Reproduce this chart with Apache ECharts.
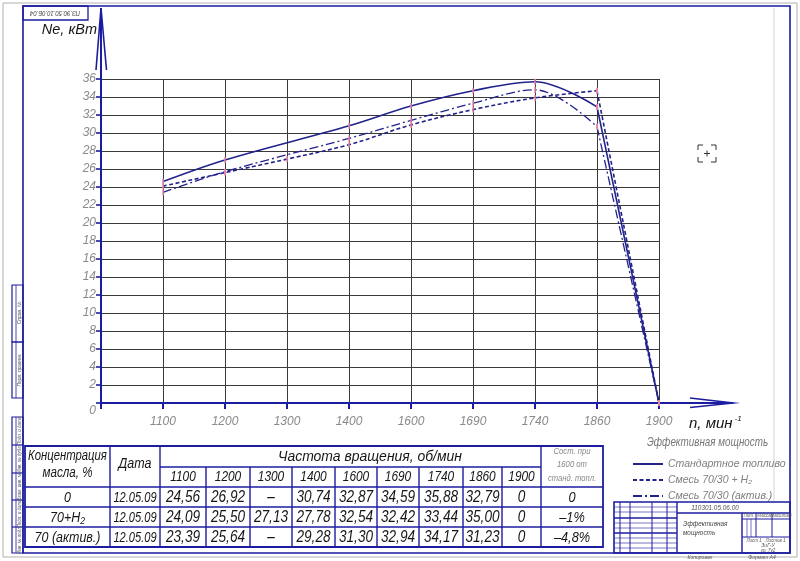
<!DOCTYPE html>
<html><head><meta charset="utf-8">
<script src="https://cdn.jsdelivr.net/npm/echarts@6/dist/echarts.min.js"></script>
<style>html,body{margin:0;padding:0;background:#fff}#c{width:800px;height:561px}</style>
</head><body><div id="c"></div><script>
// ---- data ----
const rpmLabels = ['1100','1200','1300','1400','1600','1690','1740','1860','1900'];
const seriesNames = ['Стандартное топливо','Смесь 70/30 + H₂','Смесь 70/30 (актив.)'];
const neStandard = [24.6, 27.0, null, 30.8, 33.0, 34.7, 35.7, 32.9, 0];
const neMixH2    = [24.1, 25.6, 27.1, 28.7, 30.9, 32.6, 33.9, 34.7, 0];
const neMixActiv = [23.4, 25.7, null, 29.4, 31.4, 33.3, 34.8, 30.7, 0];
const yMin = 0, yMax = 36, yStep = 2;

const tableRowLabels = ['0', '70+H₂', '70 (актив.)'];
const tableDates = ['12.05.09', '12.05.09', '12.05.09'];
const tableStandard = ['24,56','26,92','–','30,74','32,87','34,59','35,88','32,79','0'];
const tableMixH2    = ['24,09','25,50','27,13','27,78','32,54','32,42','33,44','35,00','0'];
const tableMixActiv = ['23,39','25,64','–','29,28','31,30','32,94','34,17','31,23','0'];
const tableDelta = ['0', '–1%', '–4,8%'];

// ---- style ----
const FF = '"Liberation Sans","DejaVu Sans",sans-serif';
const BLUE = '#1c1ca0';
const LINE = '#22228c';
const GRID = '#3a3a3a';
const LABEL = '#8a8a8a';
const INK = '#161616';

const chart = echarts.init(document.getElementById('c'), null, {renderer: 'canvas'});

// points of a series as [categoryIndex, value]
function pts(vals) {
  return vals.map((v, i) => v == null ? null : [i + 1, v]).filter(d => d);
}
function mkSeries(name, data, type, width, smooth) {
  return {
    type: 'line', name: name, data: data,
    smooth: smooth,
    symbol: 'rect', symbolSize: [1.5, 6], showSymbol: true,
    itemStyle: {color: '#e88aa8'},
    lineStyle: {color: LINE, width: width, type: type},
    emphasis: {disabled: true}, silent: true
  };
}
// smooth rising part up to 1860, straight fall from 1860 to 1900
function mkPair(name, vals, type, width) {
  const p = pts(vals);
  return [mkSeries(name, p.slice(0, p.length - 1), type, width, 0.35),
          mkSeries(name, p.slice(p.length - 2), type, width, false)];
}

function txt(x, y, text, size, opt) {
  opt = opt || {};
  return {type: 'text', x: x, y: y, rotation: opt.rot || 0, scaleX: opt.sx || 1, silent: true,
    style: {text: text, fontSize: size, fontFamily: FF, fontStyle: opt.normal ? 'normal' : 'italic',
      fill: opt.fill || INK, align: opt.align || 'center', verticalAlign: opt.va || 'middle'}};
}
function ln(x1, y1, x2, y2, w, c) {
  return {type: 'line', silent: true, shape: {x1: x1, y1: y1, x2: x2, y2: y2},
    style: {stroke: c || BLUE, lineWidth: w || 1}};
}
function pl(points, w, c) {
  return {type: 'polyline', silent: true, shape: {points: points}, style: {stroke: c || BLUE, lineWidth: w || 1, fill: null}};
}
function rc(x, y, w, h, lw, c) {
  return {type: 'rect', silent: true, shape: {x: x, y: y, width: w, height: h},
    style: {stroke: c || BLUE, lineWidth: lw || 1, fill: null}};
}

const g = [];
// sheet borders
g.push(rc(3, 3, 794, 554, 1, '#b0b0b0'));
g.push(rc(23, 6, 767, 547, 1.6));
g.push(ln(774, 8, 774, 501, 1, '#d4d4d4'));
// top-left code box (upside down)
g.push(rc(23, 6, 65, 14, 1.3));
g.push(txt(55, 13, 'ПЗ.90.50.10.0Б.04', 7, {rot: Math.PI, fill: '#444', sx: 0.85}));
// left stamp columns
g.push(rc(12, 285, 11, 57, 1.2)); g.push(rc(12, 342, 11, 56, 1.2));
g.push(ln(16, 285, 16, 398, 0.8));
g.push(txt(19.5, 313, 'Справ. №', 5, {rot: Math.PI / 2, fill: '#555'}));
g.push(txt(19.5, 370, 'Перв. примен.', 5, {rot: Math.PI / 2, fill: '#555'}));
g.push(rc(12, 417, 11, 136, 1.2));
g.push(ln(16, 417, 16, 553, 0.8));
[445, 473, 500, 527].forEach(y => g.push(ln(12, y, 23, y, 1.2)));
['Подп. и дата', 'Инв. № дубл.', 'Взам. инв. №', 'Подп. и дата', 'Инв. № подл.'].forEach((t, i) => {
  const ys = [431, 459, 486.5, 513.5, 540];
  g.push(txt(19.5, ys[i], t, 4.5, {rot: Math.PI / 2, fill: '#555'}));
});
// axis extensions with arrows
g.push(ln(101, 80, 101, 8, 2));
g.push(pl([[96, 70], [101, 8], [106.5, 70]], 1.6));
g.push(ln(659, 403, 733, 403, 2));
g.push(pl([[690, 398], [733, 403], [690, 407.5]], 1.6));
// viewer glyph
g.push(pl([[698, 150], [698, 145], [703, 145]], 1, '#333'));
g.push(pl([[711, 145], [716, 145], [716, 150]], 1, '#333'));
g.push(pl([[698, 157], [698, 162], [703, 162]], 1, '#333'));
g.push(pl([[711, 162], [716, 162], [716, 157]], 1, '#333'));
g.push(ln(704, 153.5, 710, 153.5, 1, '#333'));
g.push(ln(707, 150.5, 707, 156.5, 1, '#333'));

// ---- table ----
const tX = [25, 110, 160, 206, 250, 292, 335, 377, 419, 463, 502, 541, 603];
const tY = [446, 467, 487, 507, 527, 547];
g.push(rc(25, 446, 578, 101, 1.8));
g.push(ln(160, 467, 541, 467, 1.4));
[487, 507, 527].forEach(y => g.push(ln(25, y, 603, y, 1.4)));
[110, 160, 541].forEach(x => g.push(ln(x, 446, x, 547, 1.4)));
for (let i = 3; i < 11; i++) g.push(ln(tX[i], 467, tX[i], 547, 1.4));
g.push(txt(67.5, 456, 'Концентрация', 14.5, {sx: 0.78}));
g.push(txt(67.5, 473, 'масла, %', 14.5, {sx: 0.8}));
g.push(txt(135, 464, 'Дата', 14.5, {sx: 0.86}));
g.push(txt(370, 456.5, 'Частота вращения, об/мин', 15.5, {sx: 0.9}));
g.push(txt(572, 451, 'Сост. при', 9, {fill: '#888', sx: 0.85}));
g.push(txt(572, 464, '1600 от', 9, {fill: '#888', sx: 0.85}));
g.push(txt(572, 478, 'станд. топл.', 9, {fill: '#888', sx: 0.85}));
rpmLabels.forEach((r, i) => g.push(txt((tX[i + 2] + tX[i + 3]) / 2, 477.5, r, 14, {sx: 0.85})));
const tableRows = [tableStandard, tableMixH2, tableMixActiv];
tableRows.forEach((row, ri) => {
  const yc = (tY[ri + 2] + tY[ri + 3]) / 2 + 0.5;
  g.push(txt(67.5, yc, tableRowLabels[ri], 14.5, {sx: 0.86}));
  g.push(txt(135, yc, tableDates[ri], 15, {sx: 0.74}));
  row.forEach((v, ci) => g.push(txt((tX[ci + 2] + tX[ci + 3]) / 2, yc, v, 16, {sx: 0.85})));
  g.push(txt(572, yc, tableDelta[ri], 15, {sx: 0.85}));
});

// ---- title block ----
g.push(rc(614, 502, 176, 51, 1.6));
g.push(ln(677, 502, 677, 553, 1.4));
g.push(ln(677, 513, 790, 513, 1.4));
g.push(ln(742, 513, 742, 553, 1.4));
g.push(ln(742, 519, 790, 519, 1));
g.push(ln(742, 537, 790, 537, 1));
g.push(ln(756, 513, 756, 537, 1));
g.push(ln(772, 513, 772, 537, 1));
g.push(ln(747, 519, 747, 537, 0.6));
g.push(ln(751, 519, 751, 537, 0.6));
[620, 630, 652, 667].forEach(x => g.push(ln(x, 502, x, 553, 1)));
[507, 512, 523, 528, 538, 543, 548].forEach(y => g.push(ln(614, y, 677, y, 0.6)));
[518, 533].forEach(y => g.push(ln(614, y, 677, y, 1.4)));
g.push(txt(715, 507.5, '110301.05.06.00', 8, {fill: '#555', sx: 0.8}));
g.push(txt(683, 524, 'Эффективная', 7.5, {align: 'left', fill: '#444', sx: 0.85}));
g.push(txt(683, 533, 'мощность', 7.5, {align: 'left', fill: '#444', sx: 0.85}));
g.push(txt(749, 516, 'Лит.', 4.5, {fill: '#555'}));
g.push(txt(764, 516, 'Масса', 4.5, {fill: '#555'}));
g.push(txt(781, 516, 'Масштаб', 4.5, {fill: '#555'}));
g.push(txt(766, 540.5, 'Лист 1   Листов 1', 4.5, {fill: '#555'}));
g.push(txt(768, 546, 'ЗиГ-У', 5, {fill: '#555'}));
g.push(txt(768, 550.5, 'гр. 7у2', 4.5, {fill: '#555'}));
g.push(txt(700, 557.5, 'Копировал', 5, {fill: '#555'}));
g.push(txt(762, 557.5, 'Формат А4', 5, {fill: '#555'}));
g.push(txt(647, 443, 'Эффективная мощность', 12, {align: 'left', fill: '#777', sx: 0.82}));

const option = {
  animation: false,
  backgroundColor: '#ffffff',
  grid: {left: 101, right: 141, top: 79, bottom: 158, containLabel: false},
  legend: {
    show: true, orient: 'vertical', left: 627, top: 453.5,
    itemWidth: 30, itemHeight: 10, itemGap: 5,
    itemStyle: {opacity: 0},
    textStyle: {fontFamily: FF, fontStyle: 'italic', fontSize: 10.5, color: '#808080', padding: [0, 0, 0, 0]},
    data: seriesNames, selectedMode: false
  },
  xAxis: {
    type: 'value', min: 0, max: 9, interval: 1,
    name: '{a|n, мин}{s|-1}', nameLocation: 'end', nameGap: 30,
    nameTextStyle: {align: 'left', verticalAlign: 'top', padding: [12, 0, 0, 0],
      rich: {a: {fontFamily: FF, fontStyle: 'italic', fontSize: 15, color: INK},
             s: {fontFamily: FF, fontStyle: 'italic', fontSize: 8, color: INK, verticalAlign: 'top', padding: [0, 0, 10, 2]}}},
    axisLine: {show: true, lineStyle: {color: BLUE, width: 2}},
    axisTick: {show: true, length: 6, lineStyle: {color: BLUE, width: 2}},
    axisLabel: {formatter: v => v >= 1 ? rpmLabels[v - 1] : '', margin: 13,
      fontFamily: FF, fontStyle: 'italic', fontSize: 12, color: LABEL},
    splitLine: {show: true, lineStyle: {color: GRID, width: 1}}
  },
  yAxis: {
    type: 'value', min: yMin, max: yMax, interval: yStep,
    name: 'Ne, кВт', nameLocation: 'end', nameGap: 49,
    nameTextStyle: {align: 'right', verticalAlign: 'middle', fontFamily: FF, fontStyle: 'italic', fontSize: 14.5, color: INK, padding: [0, 4, 0, 0]},
    axisLine: {show: true, lineStyle: {color: BLUE, width: 2}},
    axisTick: {show: true, length: 5, lineStyle: {color: BLUE, width: 1.6}},
    axisLabel: {margin: 5, fontFamily: FF, fontStyle: 'italic', fontSize: 12, color: LABEL,
      formatter: v => v === 0 ? '{z|0}' : String(v),
      rich: {z: {fontFamily: FF, fontStyle: 'italic', fontSize: 12, color: LABEL, padding: [16, 0, 0, 0]}}},
    splitLine: {show: true, lineStyle: {color: GRID, width: 1}}
  },
  series: [].concat(
    mkPair(seriesNames[0], neStandard, 'solid', 1.6),
    mkPair(seriesNames[1], neMixH2, [4, 2.5], 1.6),
    mkPair(seriesNames[2], neMixActiv, [9, 3, 2, 3], 1.3)
  ),
  graphic: {elements: g}
};
chart.setOption(option);
</script></body></html>
